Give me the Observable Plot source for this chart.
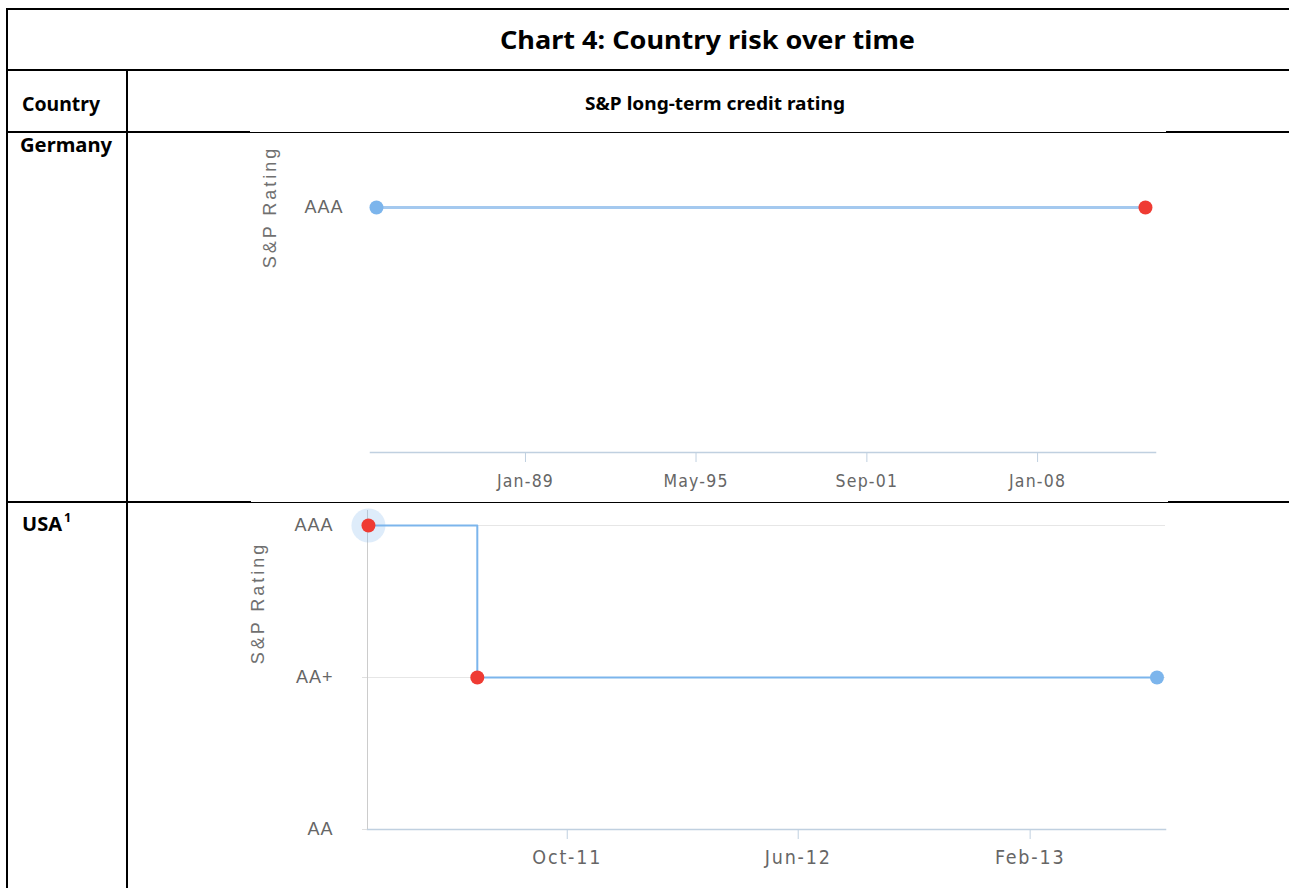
<!DOCTYPE html>
<html><head><meta charset="utf-8">
<script src="https://cdn.jsdelivr.net/npm/d3@7"></script>
<script src="https://cdn.jsdelivr.net/npm/@observablehq/plot@0.6"></script>
<style>
html,body{margin:0;padding:0;background:#fff;}
#page{position:relative;width:1289px;height:888px;overflow:hidden;font-family:"Noto Sans",sans-serif;}
.hl{position:absolute;background:#000;z-index:5;}
.txt{position:absolute;font-weight:bold;color:#000;white-space:nowrap;transform-origin:left top;line-height:1;}
.chart{position:absolute;left:0;}
.ytitle{position:absolute;font-family:"Liberation Sans",Arial,sans-serif;font-size:18px;letter-spacing:3px;color:#707070;white-space:nowrap;transform:translate(-50%,-50%) rotate(-90deg);}
</style></head>
<body><div id="page"></div>
<script>
// ---------- data ----------
const title = "Chart 4: Country risk over time";
const columnHeaders = ["Country", "S&P long-term credit rating"];
const countries = ["Germany", "USA"];
const footnoteMark = "1";
const yAxisTitle = "S&P Rating";
const ratingScale = ["AAA", "AA+", "AA"];
const pointTypes = ["rating", "action"];

const germanyDates = ["1983-06-23", "2012-01-02"];
const germanyRatings = ["AAA", "AAA"];
const germanyPointTypes = ["rating", "action"];
const germanyTicks = ["1989-01-01", "1995-05-01", "2001-09-01", "2008-01-01"];
const germanyTickLabels = ["Jan-89", "May-95", "Sep-01", "Jan-08"];
const germanyDomain = ["1983-04-03", "2012-05-17"];
const germanyRatingTicks = ["AAA"];

const usaDates = ["2011-03-05", "2011-06-28", "2013-06-15"];
const usaRatings = ["AAA", "AA+", "AA+"];
const usaPointTypes = ["action", "action", "rating"];
const usaHighlighted = [true, false, false];
const usaTicks = ["2011-10-01", "2012-06-01", "2013-02-01"];
const usaTickLabels = ["Oct-11", "Jun-12", "Feb-13"];
const usaDomain = ["2011-03-04", "2013-06-24"];

// ---------- page frame (table) ----------
const page = document.getElementById("page");
function hline(x1, x2, y, h) {
  const d = document.createElement("div");
  d.className = "hl";
  d.style.left = x1 + "px"; d.style.width = (x2 - x1) + "px";
  d.style.top = y + "px"; d.style.height = h + "px";
  page.appendChild(d);
}
function vline(x, y1, y2, w) {
  const d = document.createElement("div");
  d.className = "hl";
  d.style.left = x + "px"; d.style.width = w + "px";
  d.style.top = y1 + "px"; d.style.height = (y2 - y1) + "px";
  page.appendChild(d);
}
hline(6, 1289, 8, 2);
vline(6, 8, 888, 2);
hline(6, 1289, 69, 2);
vline(126, 70, 888, 2);
hline(6, 250, 131, 2); hline(250, 1166, 132, 1); hline(1166, 1289, 131, 2);
hline(6, 251, 501, 2); hline(251, 1168, 502, 1); hline(1168, 1289, 501, 2);

function placeText(str, {left, baseline, cap, width}) {
  const el = document.createElement("div");
  el.className = "txt";
  el.style.fontSize = (cap / 0.714) + "px";
  el.appendChild(document.createTextNode(str));
  const mark = document.createElement("span");
  mark.style.cssText = "display:inline-block;width:0;height:0;vertical-align:baseline";
  el.appendChild(mark);
  el.style.left = left + "px"; el.style.top = "0px";
  page.appendChild(el);
  const w = el.getBoundingClientRect().width;
  const b = mark.getBoundingClientRect().top - page.getBoundingClientRect().top;
  el.style.top = (baseline - b) + "px";
  if (width) el.style.transform = `scaleX(${width / w})`;
  return el;
}
placeText(title, {left: 500, baseline: 49, cap: 18, width: 415});
placeText(columnHeaders[0], {left: 22, baseline: 111, cap: 14, width: 78});
placeText(columnHeaders[1], {left: 585, baseline: 110, cap: 13, width: 260});
placeText(countries[0], {left: 20, baseline: 152, cap: 14, width: 92});
placeText(countries[1], {left: 22, baseline: 531, cap: 14, width: 40});
placeText(footnoteMark, {left: 64, baseline: 522, cap: 9});

function yTitle(cx, cy) {
  const d = document.createElement("div");
  d.className = "ytitle";
  d.textContent = yAxisTitle;
  d.style.left = cx + "px"; d.style.top = cy + "px";
  page.appendChild(d);
}

// ---------- charts ----------
const parse = d3.utcParse("%Y-%m-%d");
const blue = "#7cb5ec", red = "#ef3b33";
const axisLine = "#c0d0e0";
const tickFont = '"DejaVu Sans Condensed", "DejaVu Sans", sans-serif';
const labelFont = '"Liberation Sans", Arial, sans-serif';

function labelMap(ticks, labels) {
  const m = new Map(ticks.map((t, i) => [+parse(t), labels[i]]));
  return d => m.get(+d);
}
function spaceLabels(svg, spacing) {
  svg.querySelectorAll('g[aria-label="x-axis tick label"]').forEach(g => g.style.letterSpacing = spacing);
  svg.querySelectorAll('g[aria-label="y-axis tick label"]').forEach(g => g.style.letterSpacing = "1px");
}

const germany = germanyDates.map((d, i) => ({date: parse(d), rating: germanyRatings[i], type: germanyPointTypes[i]}));
const usa = usaDates.map((d, i) => ({date: parse(d), rating: usaRatings[i], type: usaPointTypes[i], highlighted: usaHighlighted[i]}));

const gChart = Plot.plot({
  width: 1289, height: 368,
  marginLeft: 370, marginRight: 134, marginTop: 0, marginBottom: 50,
  style: {background: "transparent", overflow: "visible"},
  x: {type: "utc", domain: germanyDomain.map(parse)},
  y: {type: "point", domain: germanyRatingTicks, range: [73, 73], padding: 0},
  color: {domain: pointTypes, range: [blue, red]},
  marks: [
    Plot.frame({anchor: "bottom", stroke: axisLine, strokeWidth: 1.5}),
    Plot.axisX({ticks: germanyTicks.map(parse), tickFormat: labelMap(germanyTicks, germanyTickLabels),
      tickSize: 10, tickPadding: 12, stroke: axisLine, fill: "#666", fontSize: 17.5, fontFamily: tickFont, label: null}),
    Plot.axisY({tickSize: 0, tickPadding: 27, fill: "#666", fontSize: 18, fontFamily: labelFont, label: null}),
    Plot.line(germany, {x: "date", y: "rating", stroke: "#a4c9ef", strokeWidth: 3}),
    Plot.dot(germany, {x: "date", y: "rating", r: 7, fill: "type"})
  ]
});
gChart.classList.add("chart");
gChart.style.top = "134px";
spaceLabels(gChart, "1.2px");
page.appendChild(gChart);

const uChart = Plot.plot({
  width: 1289, height: 385,
  marginLeft: 367, marginRight: 124, marginTop: 7, marginBottom: 59,
  style: {background: "transparent", overflow: "visible"},
  x: {type: "utc", domain: usaDomain.map(parse)},
  y: {type: "point", domain: ratingScale, range: [22, 326], padding: 0},
  color: {domain: pointTypes, range: [blue, red]},
  marks: [
    Plot.ruleY(ratingScale, {stroke: "#e6e6e6"}),
    Plot.ruleX([parse(usaDomain[0])], {stroke: "#cccccc"}),
    Plot.frame({anchor: "bottom", stroke: axisLine, strokeWidth: 1.5}),
    Plot.axisX({ticks: usaTicks.map(parse), tickFormat: labelMap(usaTicks, usaTickLabels),
      tickSize: 10, tickPadding: 11, stroke: axisLine, fill: "#666", fontSize: 19.5, fontFamily: tickFont, label: null}),
    Plot.axisY({tickSize: 5, tickPadding: 29, stroke: "#e0e0e0", fill: "#666", fontSize: 18, fontFamily: labelFont, label: null}),
    Plot.dot(usa, {filter: "highlighted", x: "date", y: "rating", r: 17, fill: blue, fillOpacity: 0.25}),
    Plot.line(usa, {x: "date", y: "rating", curve: "step-after", stroke: blue, strokeWidth: 2}),
    Plot.dot(usa, {x: "date", y: "rating", r: 7, fill: "type"})
  ]
});
uChart.classList.add("chart");
uChart.style.top = "503px";
spaceLabels(uChart, "1.8px");
page.appendChild(uChart);

yTitle(270, 207);
yTitle(258, 603);
</script>
</body></html>
